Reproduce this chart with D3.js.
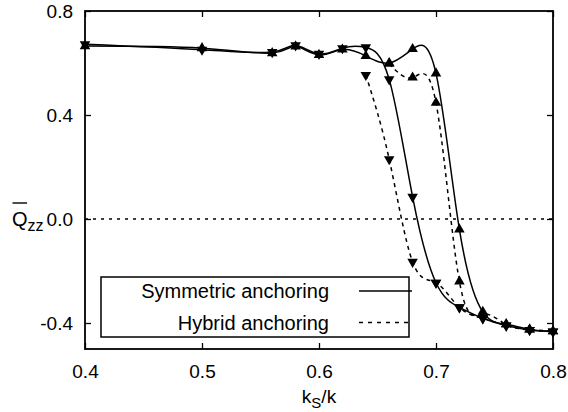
<!DOCTYPE html>
<html>
<head>
<meta charset="utf-8">
<script src="https://cdn.jsdelivr.net/npm/d3@7/dist/d3.min.js"></script>
<style>
  body { margin: 0; background: #fff; }
  text { font-family: "Liberation Sans", Arial, Helvetica, sans-serif; fill: #000; }
</style>
</head>
<body>
<div id="chart"></div>
<script>
'use strict';

// k_S/k sampling of the symmetric runs
var kRatio = [0.40, 0.50, 0.56, 0.58, 0.60, 0.62, 0.64, 0.66, 0.68, 0.70, 0.72, 0.74, 0.76, 0.78, 0.80];
var symUp = [0.665, 0.657, 0.638, 0.664, 0.631, 0.652, 0.627, 0.600, 0.654, 0.560, -0.040, -0.357, -0.405, -0.425, -0.432];
var symDown = [0.672, 0.651, 0.642, 0.668, 0.635, 0.657, 0.660, 0.537, 0.085, -0.245, -0.340, -0.382, -0.410, -0.427, -0.433];

// hybrid runs only cover the transition region
var hybUpK = [0.66, 0.68, 0.70, 0.72, 0.74, 0.76, 0.78, 0.80];
var hybUp = [0.597, 0.544, 0.447, -0.240, -0.365, -0.405, -0.425, -0.432];
var hybDownK = [0.64, 0.66, 0.68, 0.70, 0.72, 0.74, 0.76, 0.78, 0.80];
var hybDown = [0.554, 0.230, -0.165, -0.245, -0.340, -0.382, -0.410, -0.427, -0.433];

var xTicks = [0.4, 0.5, 0.6, 0.7, 0.8];
var yTicks = [0.8, 0.4, 0.0, -0.4];
var legendLabels = ['Symmetric anchoring', 'Hybrid anchoring'];

var width = 568, height = 412;
var margin = { top: 11, right: 15, bottom: 63, left: 85 };
var iw = width - margin.left - margin.right;
var ih = height - margin.top - margin.bottom;

var x = d3.scaleLinear().domain([0.4, 0.8]).range([0, iw]);
var y = d3.scaleLinear().domain([-0.5, 0.8]).range([ih, 0]);

// plain hyphen for negatives, like gnuplot
var fmt = d => d.toFixed(1);

var svg = d3.select('#chart')
    .append('svg')
        .attr('width', width)
        .attr('height', height);

var g = svg.append('g')
    .attr('transform', 'translate(' + margin.left + ',' + margin.top + ')');

// zero line
g.append('line')
    .attr('x1', 0).attr('x2', iw)
    .attr('y1', y(0)).attr('y2', y(0))
    .style('stroke', '#000')
    .style('stroke-width', 1.3)
    .style('stroke-dasharray', '3,5');

function pairs(xs, ys) {
    return xs.map(function (d, i) { return [d, ys[i]]; });
}

var series = [
    { pts: pairs(kRatio, symUp), dash: null, up: true },
    { pts: pairs(kRatio, symDown), dash: null, up: false },
    { pts: pairs(hybUpK, hybUp), dash: '4,4', up: true },
    { pts: pairs(hybDownK, hybDown), dash: '4,4', up: false }
];

var line = d3.line()
    .x(d => x(d[0]))
    .y(d => y(d[1]))
    .curve(d3.curveNatural);

series.forEach(function (s) {
    g.append('path')
        .datum(s.pts)
        .attr('d', line)
        .style('fill', 'none')
        .style('stroke', '#000')
        .style('stroke-width', 1.5)
        .style('stroke-dasharray', s.dash);
});

var tri = d3.symbol().type(d3.symbolTriangle).size(48);
series.forEach(function (s) {
    g.selectAll(null)
        .data(s.pts)
        .enter()
        .append('path')
        .attr('d', tri)
        .attr('transform', d => 'translate(' + x(d[0]) + ',' + y(d[1]) + ')' + (s.up ? '' : ' rotate(180)'))
        .style('fill', '#000');
});

// axes with inward ticks, mirrored
var tickLen = 6;
g.append('g')
    .attr('transform', 'translate(0,' + ih + ')')
    .call(d3.axisBottom(x).tickValues(xTicks).tickSizeInner(-tickLen).tickSizeOuter(0).tickPadding(16).tickFormat(fmt));
g.append('g')
    .call(d3.axisTop(x).tickValues(xTicks).tickSizeInner(-tickLen).tickSizeOuter(0).tickFormat(''));
g.append('g')
    .call(d3.axisLeft(y).tickValues(yTicks).tickSizeInner(-tickLen).tickSizeOuter(0).tickPadding(12).tickFormat(fmt));
g.append('g')
    .attr('transform', 'translate(' + iw + ',0)')
    .call(d3.axisRight(y).tickValues(yTicks).tickSizeInner(-tickLen).tickSizeOuter(0).tickFormat(''));

g.selectAll('.domain').remove();
g.selectAll('.tick line').style('stroke', '#000').style('stroke-width', 1.3);
g.selectAll('.tick text')
    .style('font-size', '19px')
    .style('font-family', '"Liberation Sans", Arial, sans-serif');

g.append('rect')
    .attr('width', iw)
    .attr('height', ih)
    .style('fill', 'none')
    .style('stroke', '#000')
    .style('stroke-width', 1.8);

// legend
var legend = g.append('g').attr('transform', 'translate(16,266)');
legend.append('rect')
    .attr('width', 308)
    .attr('height', 60)
    .style('fill', '#fff')
    .style('stroke', '#000')
    .style('stroke-width', 1.5);

legendLabels.forEach(function (label, i) {
    var yy = 14 + i * 31.5;
    legend.append('text')
        .attr('x', 228)
        .attr('y', yy + 7)
        .attr('text-anchor', 'end')
        .style('font-size', '20px')
        .text(label);
    legend.append('line')
        .attr('x1', 258).attr('x2', 311)
        .attr('y1', yy).attr('y2', yy)
        .style('stroke', '#000')
        .style('stroke-width', 1.5)
        .style('stroke-dasharray', i === 0 ? null : '4,5');
});

// y label: Q-bar with zz subscript
var ylab = svg.append('text')
    .attr('x', 12)
    .attr('y', 226)
    .style('font-size', '20px');
var qSpan = ylab.append('tspan').text('Q');
ylab.append('tspan')
    .attr('dy', 5)
    .style('font-size', '16px')
    .text('zz');
var qBox = qSpan.node().getBBox();
svg.append('line')
    .attr('x1', qBox.x + 0.5).attr('x2', qBox.x + qBox.width - 0.5)
    .attr('y1', 203).attr('y2', 203)
    .style('stroke', '#000')
    .style('stroke-width', 1.4);

// x label
var xlab = svg.append('text')
    .attr('x', margin.left + iw / 2)
    .attr('y', 403)
    .attr('text-anchor', 'middle')
    .style('font-size', '19px');
xlab.append('tspan').text('k');
xlab.append('tspan').attr('dy', 5).style('font-size', '15px').text('S');
xlab.append('tspan').attr('dy', -5).text('/k');
</script>
</body>
</html>
